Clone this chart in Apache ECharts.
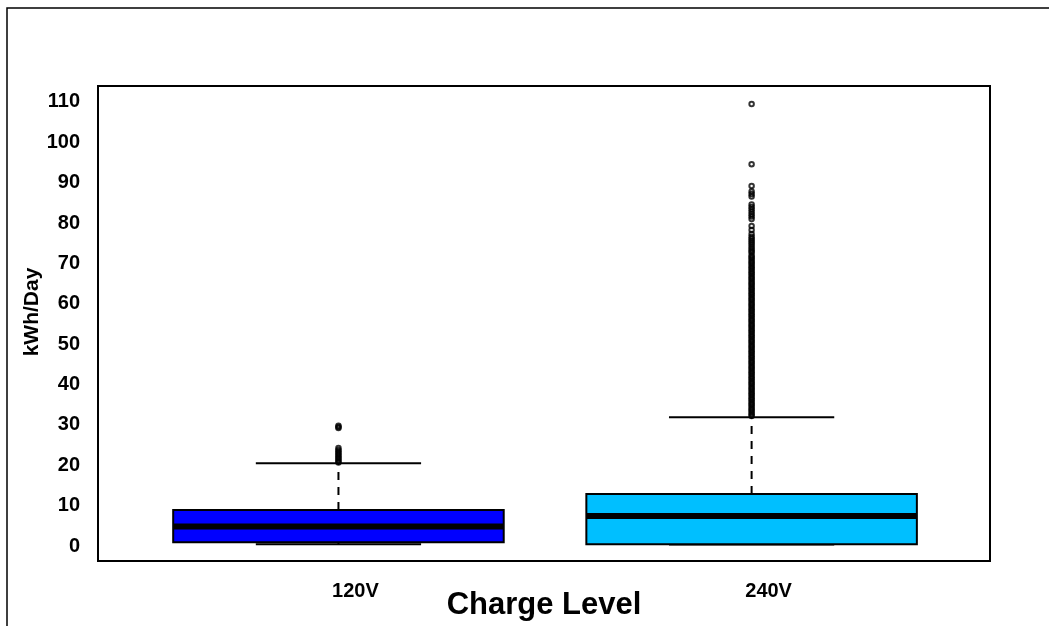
<!DOCTYPE html>
<html>
<head>
<meta charset="utf-8">
<title>kWh/Day by Charge Level</title>
<script src="https://cdn.jsdelivr.net/npm/echarts@6/dist/echarts.min.js"></script>
<style>
  html, body { margin: 0; padding: 0; background: #fff; }
  #chart { width: 1049px; height: 626px; }
</style>
</head>
<body>
<div id="chart"></div>
<script>
// Charge levels and their box statistics (kWh per day)
var categories = ['120V', '240V'];
var lowerWhisker = [0.4, 0.35];
var lowerQuartile = [0.9, 0.42];
var medianValue = [4.8, 7.4];
var upperQuartile = [8.9, 12.9];
var upperWhisker = [20.5, 31.9];
var boxColors = ['#0000FF', '#00BFFF'];

// Values beyond the upper whisker
var outliers120V = [29.8, 29.5, 29.2, 24.3, 23.8, 23.4, 23.0, 22.6, 22.2, 21.8, 21.4, 21.0, 20.7];
var outliers240V = [
  109.5, 94.6, 89.2, 87.8, 87.2, 86.6, 84.6, 84.0, 83.4, 82.8, 82.2, 81.6, 81.0,
  79.3, 78.3, 77.3, 76.6, 76.1, 75.6, 75.1, 74.6, 74.1, 73.6, 73.1, 72.7,
  72.0, 71.6, 71.2, 70.7, 70.3, 69.9, 69.4, 69.0, 68.6, 68.1, 67.7, 67.3, 66.8,
  66.4, 66.0, 65.5, 65.1, 64.7, 64.2, 63.8, 63.4, 62.9, 62.5, 62.1, 61.6, 61.2,
  60.8, 60.3, 59.9, 59.5, 59.0, 58.6, 58.2, 57.7, 57.3, 56.9, 56.4, 56.0, 55.6,
  55.1, 54.7, 54.3, 53.8, 53.4, 53.0, 52.5, 52.1, 51.7, 51.2, 50.8, 50.4, 49.9,
  49.5, 49.1, 48.6, 48.2, 47.8, 47.3, 46.9, 46.5, 46.0, 45.6, 45.2, 44.7, 44.3,
  43.9, 43.4, 43.0, 42.6, 42.1, 41.7, 41.3, 40.8, 40.4, 40.0, 39.5, 39.1, 38.7,
  38.2, 37.8, 37.4, 36.9, 36.5, 36.1, 35.6, 35.2, 34.8, 34.3, 33.9, 33.5, 33.0,
  32.6, 32.2
];
var outlierGroups = [outliers120V, outliers240V];

// Axis tick labels
var yTickValues = [0, 10, 20, 30, 40, 50, 60, 70, 80, 90, 100, 110];
var xTickValues = [1, 2];

var FONT = '"Liberation Sans", Arial, sans-serif';
var BOX_WIDTH = 0.8;   // in x-axis units
var CAP_WIDTH = 0.4;

var boxData = categories.map(function (c, i) {
  return [i + 1, lowerWhisker[i], lowerQuartile[i], medianValue[i], upperQuartile[i], upperWhisker[i]];
});

var outlierData = [];
outlierGroups.forEach(function (group, i) {
  group.forEach(function (v) { outlierData.push([i + 1, v]); });
});

function renderBox(params, api) {
  var x = api.value(0);
  var idx = params.dataIndex;
  var low = api.coord([x, api.value(1)]);
  var q1 = api.coord([x, api.value(2)]);
  var med = api.coord([x, api.value(3)]);
  var q3 = api.coord([x, api.value(4)]);
  var high = api.coord([x, api.value(5)]);
  var halfBox = api.size([BOX_WIDTH, 0])[0] / 2;
  var halfCap = api.size([CAP_WIDTH, 0])[0] / 2;
  var cx = q1[0];
  var dashStyle = { stroke: '#000', lineWidth: 2, lineDash: [8, 7] };
  var capStyle = { stroke: '#000', lineWidth: 2 };
  return {
    type: 'group',
    children: [
      { type: 'line', shape: { x1: cx, y1: q3[1], x2: cx, y2: high[1] }, style: dashStyle },
      { type: 'line', shape: { x1: cx, y1: q1[1], x2: cx, y2: low[1] }, style: dashStyle },
      { type: 'line', shape: { x1: cx - halfCap, y1: high[1], x2: cx + halfCap, y2: high[1] }, style: capStyle },
      { type: 'line', shape: { x1: cx - halfCap, y1: low[1], x2: cx + halfCap, y2: low[1] }, style: capStyle },
      {
        type: 'rect',
        shape: { x: cx - halfBox, y: q3[1], width: halfBox * 2, height: q1[1] - q3[1] },
        style: { fill: boxColors[idx], stroke: '#000', lineWidth: 2 }
      },
      { type: 'line', shape: { x1: cx - halfBox, y1: med[1], x2: cx + halfBox, y2: med[1] }, style: { stroke: '#000', lineWidth: 6 } }
    ]
  };
}

var chart = echarts.init(document.getElementById('chart'), null, { renderer: 'canvas' });
chart.setOption({
  animation: false,
  backgroundColor: '#fff',
  grid: {
    left: 98, top: 86, width: 892, height: 475,
    show: true, borderColor: '#000', borderWidth: 2, backgroundColor: 'transparent'
  },
  xAxis: {
    type: 'value',
    min: 0.418,
    max: 2.577,
    axisLine: { show: false },
    axisTick: { show: false },
    splitLine: { show: false },
    axisLabel: {
      customValues: xTickValues,
      formatter: function (v) { return categories[Math.round(v) - 1] || ''; },
      margin: 20,
      padding: [0, 0, 0, 34],
      color: '#000',
      fontSize: 20,
      fontWeight: 'bold',
      fontFamily: FONT
    }
  },
  yAxis: {
    type: 'value',
    min: -3.72,
    max: 113.96,
    axisLine: { show: false },
    axisTick: { show: false },
    splitLine: { show: false },
    axisLabel: {
      customValues: yTickValues,
      margin: 18,
      color: '#000',
      fontSize: 20,
      fontWeight: 'bold',
      fontFamily: FONT
    }
  },
  graphic: [
    {
      type: 'rect', silent: true, z: -10,
      shape: { x: 7, y: 8, width: 1200, height: 800 },
      style: { fill: 'none', stroke: '#000', lineWidth: 1.5 }
    },
    {
      type: 'text', silent: true,
      x: 32, y: 312, rotation: Math.PI / 2,
      style: {
        text: 'kWh/Day', fill: '#000', align: 'center', verticalAlign: 'middle',
        font: 'bold 21px ' + FONT
      }
    },
    {
      type: 'text', silent: true,
      x: 544, y: 605,
      style: {
        text: 'Charge Level', fill: '#000', align: 'center', verticalAlign: 'middle',
        font: 'bold 31px ' + FONT
      }
    }
  ],
  series: [
    {
      type: 'custom',
      renderItem: renderBox,
      encode: { x: 0, y: [1, 2, 3, 4, 5] },
      data: boxData
    },
    {
      type: 'scatter',
      symbol: 'circle',
      symbolSize: 4.5,
      itemStyle: { color: 'rgba(0,0,0,0)', borderColor: '#000', borderWidth: 2 },
      data: outlierData
    }
  ]
});
</script>
</body>
</html>
